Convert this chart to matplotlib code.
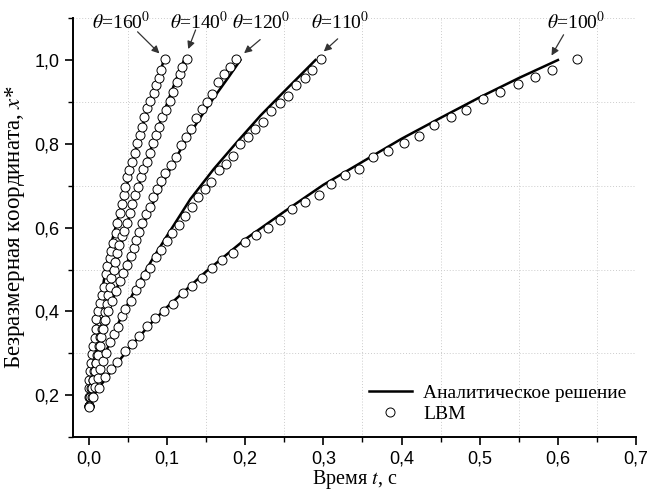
import matplotlib
matplotlib.use("Agg")
import matplotlib.pyplot as plt
from matplotlib.ticker import MultipleLocator, FuncFormatter

plt.rcParams['mathtext.fontset'] = 'stix'

# LBM points (time, dimensionless coordinate)
t_lbm_100 = [0.000, 0.005, 0.013, 0.021, 0.028, 0.036, 0.046, 0.055, 0.064, 0.074, 0.085, 0.096,
             0.108, 0.121, 0.132, 0.145, 0.158, 0.171, 0.185, 0.200, 0.214, 0.229, 0.244, 0.260,
             0.277, 0.294, 0.310, 0.328, 0.346, 0.364, 0.383, 0.403, 0.422, 0.442, 0.463, 0.483,
             0.504, 0.526, 0.549, 0.571, 0.592, 0.624]
x_lbm_100 = [0.172, 0.195, 0.217, 0.243, 0.262, 0.279, 0.305, 0.322, 0.341, 0.365, 0.384, 0.401,
             0.418, 0.444, 0.461, 0.480, 0.504, 0.523, 0.540, 0.566, 0.583, 0.600, 0.619, 0.645,
             0.662, 0.679, 0.705, 0.725, 0.741, 0.768, 0.784, 0.801, 0.818, 0.844, 0.863, 0.880,
             0.906, 0.923, 0.942, 0.959, 0.976, 1.002]

t_lbm_110 = [0.000, 0.004, 0.008, 0.012, 0.015, 0.018, 0.022, 0.027, 0.032, 0.037, 0.042, 0.047,
             0.054, 0.060, 0.065, 0.072, 0.079, 0.086, 0.092, 0.100, 0.107, 0.115, 0.123, 0.132,
             0.140, 0.149, 0.157, 0.166, 0.175, 0.184, 0.194, 0.204, 0.213, 0.223, 0.233, 0.245,
             0.255, 0.265, 0.276, 0.285, 0.297]
x_lbm_110 = [0.175, 0.196, 0.219, 0.241, 0.262, 0.282, 0.301, 0.327, 0.346, 0.363, 0.389, 0.406,
             0.425, 0.451, 0.468, 0.487, 0.504, 0.530, 0.547, 0.567, 0.587, 0.607, 0.627, 0.648,
             0.674, 0.691, 0.710, 0.737, 0.753, 0.770, 0.799, 0.816, 0.835, 0.851, 0.878, 0.897,
             0.914, 0.940, 0.957, 0.976, 1.002]

t_lbm_120 = [0.000, 0.002, 0.004, 0.006, 0.008, 0.010, 0.012, 0.014, 0.016, 0.018, 0.021, 0.025,
             0.030, 0.035, 0.040, 0.044, 0.049, 0.054, 0.058, 0.061, 0.064, 0.068, 0.073, 0.078,
             0.082, 0.087, 0.092, 0.098, 0.105, 0.112, 0.118, 0.124, 0.131, 0.137, 0.145, 0.151,
             0.158, 0.165, 0.173, 0.181, 0.188]
x_lbm_120 = [0.175, 0.196, 0.217, 0.237, 0.257, 0.277, 0.297, 0.318, 0.338, 0.358, 0.380, 0.402,
             0.425, 0.449, 0.473, 0.492, 0.511, 0.533, 0.552, 0.570, 0.590, 0.612, 0.633, 0.648,
             0.672, 0.693, 0.712, 0.730, 0.749, 0.768, 0.796, 0.816, 0.835, 0.861, 0.883, 0.899,
             0.919, 0.947, 0.966, 0.983, 1.002]

t_lbm_140 = [0.000, 0.002, 0.003, 0.005, 0.007, 0.009, 0.011, 0.013, 0.015, 0.017, 0.019, 0.021,
             0.023, 0.025, 0.027, 0.029, 0.032, 0.034, 0.036, 0.039, 0.042, 0.045, 0.049, 0.053,
             0.055, 0.059, 0.063, 0.067, 0.069, 0.074, 0.078, 0.082, 0.086, 0.090, 0.094, 0.099,
             0.104, 0.108, 0.113, 0.117, 0.119, 0.126]
x_lbm_140 = [0.175, 0.196, 0.217, 0.237, 0.257, 0.277, 0.297, 0.318, 0.338, 0.358, 0.378, 0.398,
             0.418, 0.438, 0.459, 0.479, 0.499, 0.519, 0.539, 0.559, 0.579, 0.593, 0.612, 0.634,
             0.657, 0.677, 0.696, 0.720, 0.741, 0.756, 0.777, 0.801, 0.820, 0.839, 0.864, 0.880,
             0.902, 0.923, 0.947, 0.966, 0.983, 1.002]

t_lbm_160 = [0.000, 0.000, 0.001, 0.001, 0.002, 0.003, 0.004, 0.006, 0.008, 0.009, 0.010, 0.012,
             0.015, 0.017, 0.019, 0.022, 0.023, 0.027, 0.029, 0.031, 0.035, 0.036, 0.040, 0.042,
             0.045, 0.047, 0.049, 0.052, 0.055, 0.059, 0.062, 0.065, 0.068, 0.071, 0.075, 0.078,
             0.083, 0.086, 0.090, 0.092, 0.097]
x_lbm_160 = [0.175, 0.196, 0.217, 0.237, 0.257, 0.277, 0.298, 0.318, 0.337, 0.358, 0.382, 0.400,
             0.420, 0.440, 0.459, 0.489, 0.509, 0.528, 0.543, 0.564, 0.588, 0.612, 0.634, 0.657,
             0.677, 0.696, 0.720, 0.738, 0.756, 0.777, 0.801, 0.820, 0.839, 0.864, 0.885, 0.902,
             0.921, 0.940, 0.957, 0.976, 1.002]

# analytical solution
t_an_100 = [0, 0.01, 0.02, 0.04, 0.06, 0.08, 0.10, 0.15, 0.20, 0.25, 0.30, 0.35, 0.40, 0.45, 0.50, 0.55, 0.60]
x_an_100 = [0.18, 0.21, 0.235, 0.285, 0.33, 0.372, 0.41, 0.495, 0.572, 0.638, 0.702, 0.757, 0.812, 0.862, 0.911, 0.957, 1.0]

t_an_110 = [0, 0.01, 0.02, 0.04, 0.06, 0.08, 0.10, 0.13, 0.16, 0.19, 0.22, 0.25, 0.29]
x_an_110 = [0.18, 0.245, 0.295, 0.38, 0.455, 0.52, 0.58, 0.668, 0.74, 0.805, 0.868, 0.925, 1.0]

t_an_120 = [0, 0.005, 0.01, 0.02, 0.03, 0.04, 0.06, 0.08, 0.10, 0.12, 0.14, 0.16, 0.18, 0.194]
x_an_120 = [0.18, 0.23, 0.275, 0.365, 0.425, 0.475, 0.565, 0.65, 0.725, 0.795, 0.855, 0.91, 0.962, 1.0]

t_an_140 = [0, 0.005, 0.01, 0.02, 0.03, 0.04, 0.05, 0.06, 0.07, 0.08, 0.09, 0.10, 0.11, 0.122]
x_an_140 = [0.18, 0.245, 0.30, 0.40, 0.48, 0.55, 0.615, 0.675, 0.735, 0.79, 0.845, 0.895, 0.945, 1.0]

t_an_160 = [0, 0.005, 0.01, 0.02, 0.03, 0.04, 0.05, 0.06, 0.07, 0.08, 0.09, 0.096]
x_an_160 = [0.18, 0.29, 0.37, 0.48, 0.57, 0.64, 0.71, 0.785, 0.85, 0.91, 0.96, 1.0]

labels = [r'$\theta$=160$^0$', r'$\theta$=140$^0$', r'$\theta$=120$^0$', r'$\theta$=110$^0$', r'$\theta$=100$^0$']
label_pos = [(0.041, 1.090), (0.141, 1.090), (0.221, 1.090), (0.322, 1.090), (0.623, 1.090)]
arrow_tail = [(0.060, 1.072), (0.138, 1.078), (0.222, 1.053), (0.321, 1.055), (0.609, 1.066)]
arrow_head = [(0.093, 1.011), (0.126, 1.020), (0.196, 1.012), (0.298, 1.016), (0.590, 1.005)]

fig = plt.figure(figsize=(6.48, 4.9), dpi=100)
ax = fig.add_axes([0.1127, 0.108, 0.869, 0.855])

an = [(t_an_160, x_an_160), (t_an_140, x_an_140), (t_an_120, x_an_120), (t_an_110, x_an_110), (t_an_100, x_an_100)]
lbm = [(t_lbm_160, x_lbm_160), (t_lbm_140, x_lbm_140), (t_lbm_120, x_lbm_120), (t_lbm_110, x_lbm_110), (t_lbm_100, x_lbm_100)]

for i, (t, x) in enumerate(an):
    ax.plot(t, x, color='black', lw=1.8, zorder=2,
            label='Аналитическое решение' if i == 0 else None)
for i, (t, x) in enumerate(lbm):
    ax.plot(t, x, linestyle='none', marker='o', ms=6.5, mfc='white', mec='black', mew=0.7,
            zorder=3, label='LBM' if i == 0 else None)

for lab, pos, tail, head in zip(labels, label_pos, arrow_tail, arrow_head):
    ax.text(pos[0], pos[1], lab, ha='center', va='center', fontsize=14, family='Liberation Serif')
    ax.annotate('', xy=head, xytext=tail,
                arrowprops=dict(arrowstyle='-|>', color='#333333', lw=0.9, mutation_scale=11))

ax.set_xlim(-0.02, 0.7)
ax.set_ylim(0.1, 1.1)
ax.xaxis.set_major_locator(MultipleLocator(0.1))
ax.xaxis.set_minor_locator(MultipleLocator(0.05))
ax.yaxis.set_major_locator(MultipleLocator(0.2))
ax.yaxis.set_minor_locator(MultipleLocator(0.1))
comma = FuncFormatter(lambda v, p: ('%.1f' % v).replace('.', ','))
ax.xaxis.set_major_formatter(comma)
ax.yaxis.set_major_formatter(comma)

ax.grid(which='minor', linestyle=(0, (1, 2)), color='#cccccc', lw=0.7)
ax.set_axisbelow(True)
ax.spines['top'].set_visible(False)
ax.spines['right'].set_visible(False)
ax.spines['left'].set_linewidth(1.4)
ax.spines['bottom'].set_linewidth(1.4)
ax.tick_params(which='major', direction='out', length=6, width=1.2, labelsize=13, pad=4)
ax.tick_params(which='minor', direction='out', length=3.5, width=1.0)
for lbl in ax.get_xticklabels() + ax.get_yticklabels():
    lbl.set_family('Liberation Sans')

ax.set_xlabel(r'Время $t$, с', fontsize=14.5, family='Liberation Serif', labelpad=0)
ax.set_ylabel(r'Безразмерная координата, $x$*', fontsize=16.5, family='Liberation Serif', labelpad=5)

ax.legend(loc='lower right', frameon=False, prop={'family': 'Liberation Serif', 'size': 14},
          handlelength=2.2, handletextpad=0.6, borderaxespad=0.1, labelspacing=0.2,
          bbox_to_anchor=(1.0, 0.01))

fig.savefig('out.png', dpi=100)
